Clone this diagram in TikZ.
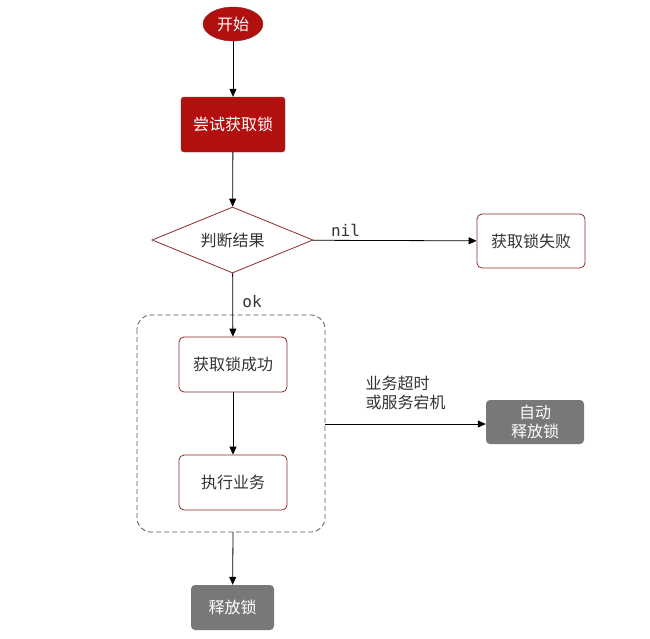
\documentclass[tikz,border=0pt]{standalone}
\usepackage{fontspec}
\setmainfont{Noto Sans CJK SC}
\newfontfamily\monof{DejaVu Sans Mono}
\usetikzlibrary{shapes.geometric,arrows.meta}
\definecolor{dred}{HTML}{B2100F}
\definecolor{bred}{HTML}{8E2A2A}
\definecolor{gbox}{HTML}{787878}
\definecolor{txt}{HTML}{333333}
\begin{document}
\begin{tikzpicture}[x=1pt,y=-1pt,
  fs/.style={font=\fontsize{16}{18}\selectfont},
  redfill/.style={draw=bred,fill=dred,text=white,rounded corners=3pt,fs},
  wbox/.style={draw=bred,line width=0.8pt,fill=white,text=txt,rounded corners=5pt,fs},
  gray/.style={fill=gbox,text=white,rounded corners=4pt,fs,align=center},
  arr/.style={-{Triangle[length=8pt,width=7pt]},line width=0.8pt},
  lbl/.style={text=txt,fs}]
\useasboundingbox (0,0) rectangle (650,638);
\node[ellipse,fill=dred,draw=bred,text=white,minimum width=60,minimum height=34,inner sep=0,fs] (start) at (233,24) {开始};
\node[redfill,minimum width=104,minimum height=55] (try) at (233,124.5) {尝试获取锁};
\node[diamond,aspect=2.45,draw=bred,line width=0.8pt,fill=white,text=txt,minimum width=161,minimum height=66,inner sep=0,fs] (judge) at (232.5,240) {判断结果};
\node[wbox,minimum width=108,minimum height=54] (fail) at (531,241) {获取锁失败};
\draw[dashed,dash pattern=on 5pt off 3pt,line width=0.8pt,rounded corners=14pt,draw=gray!70!black] (137,315) rectangle (325,532);
\coordinate (boxr) at (325,424);
\coordinate (boxb) at (233,532);
\node[wbox,minimum width=108,minimum height=55] (succ) at (233,364.5) {获取锁成功};
\node[wbox,minimum width=108,minimum height=55] (exec) at (233,482.5) {执行业务};
\node[gray,minimum width=98,minimum height=44,inner sep=1pt] (auto) at (535,422) {自动\\[1pt]释放锁};
\node[gray,minimum width=83,minimum height=45] (rel) at (232.5,607.5) {释放锁};
\draw[arr] (start) -- (try);
\draw[arr] (try) -- (judge);
\draw[arr] (judge) -- node[pos=0.2,above,font=\monof\fontsize{16}{18}\selectfont,text=txt]{nil} (fail);
\draw[arr] (judge) -- node[pos=0.45,right=6pt,font=\monof\fontsize{16}{18}\selectfont,text=txt]{ok} (succ);
\draw[arr] (succ) -- (exec);
\draw[arr] (boxb) -- (rel);
\draw[arr] (boxr) -- (auto.west|-boxr);
\node[lbl,align=left,anchor=west] (note) at (362,393) {业务超时\\[1pt]或服务宕机};
\end{tikzpicture}
\end{document}
